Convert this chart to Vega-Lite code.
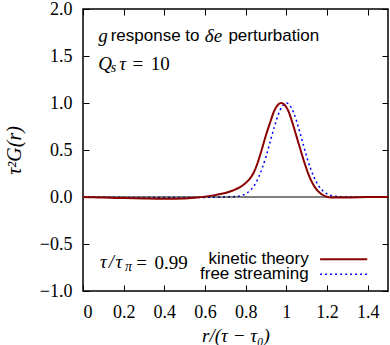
{
  "$schema": "https://vega.github.io/schema/vega-lite/v6.json",
  "width": 305,
  "height": 282,
  "autosize": {"type": "none"},
  "padding": {"left": 83, "top": 9, "right": 2, "bottom": 54},
  "background": "white",
  "config": {
    "view": {"stroke": "black", "strokeWidth": 1.5},
    "axis": {
      "labelFont": "Liberation Serif",
      "labelFontSize": 18,
      "labelColor": "black",
      "tickColor": "black",
      "tickSize": -6,
      "tickWidth": 1,
      "domain": false,
      "grid": false,
      "titleFont": "Liberation Serif",
      "titleFontStyle": "italic",
      "titleFontWeight": "normal",
      "titleFontSize": 19,
      "titleColor": "black"
    },
    "text": {"font": "Liberation Sans", "fontSize": 17, "color": "black", "align": "left", "baseline": "middle"}
  },
  "datasets": {
    "curves": [
      {"r": 0.0, "G": 0.0, "series": "kinetic theory"},
      {"r": 0.05, "G": -0.003, "series": "kinetic theory"},
      {"r": 0.1, "G": -0.006, "series": "kinetic theory"},
      {"r": 0.2, "G": -0.011, "series": "kinetic theory"},
      {"r": 0.3, "G": -0.016, "series": "kinetic theory"},
      {"r": 0.4, "G": -0.019, "series": "kinetic theory"},
      {"r": 0.5, "G": -0.015, "series": "kinetic theory"},
      {"r": 0.55, "G": -0.007, "series": "kinetic theory"},
      {"r": 0.6, "G": 0.004, "series": "kinetic theory"},
      {"r": 0.65, "G": 0.02, "series": "kinetic theory"},
      {"r": 0.7, "G": 0.042, "series": "kinetic theory"},
      {"r": 0.74, "G": 0.072, "series": "kinetic theory"},
      {"r": 0.77, "G": 0.102, "series": "kinetic theory"},
      {"r": 0.8, "G": 0.15, "series": "kinetic theory"},
      {"r": 0.82, "G": 0.192, "series": "kinetic theory"},
      {"r": 0.84, "G": 0.26, "series": "kinetic theory"},
      {"r": 0.86, "G": 0.37, "series": "kinetic theory"},
      {"r": 0.88, "G": 0.51, "series": "kinetic theory"},
      {"r": 0.9, "G": 0.66, "series": "kinetic theory"},
      {"r": 0.92, "G": 0.79, "series": "kinetic theory"},
      {"r": 0.94, "G": 0.915, "series": "kinetic theory"},
      {"r": 0.96, "G": 0.985, "series": "kinetic theory"},
      {"r": 0.975, "G": 1.0, "series": "kinetic theory"},
      {"r": 0.99, "G": 0.985, "series": "kinetic theory"},
      {"r": 1.01, "G": 0.915, "series": "kinetic theory"},
      {"r": 1.03, "G": 0.79, "series": "kinetic theory"},
      {"r": 1.05, "G": 0.645, "series": "kinetic theory"},
      {"r": 1.07, "G": 0.5, "series": "kinetic theory"},
      {"r": 1.09, "G": 0.36, "series": "kinetic theory"},
      {"r": 1.11, "G": 0.235, "series": "kinetic theory"},
      {"r": 1.13, "G": 0.14, "series": "kinetic theory"},
      {"r": 1.15, "G": 0.075, "series": "kinetic theory"},
      {"r": 1.17, "G": 0.035, "series": "kinetic theory"},
      {"r": 1.19, "G": 0.01, "series": "kinetic theory"},
      {"r": 1.22, "G": -0.004, "series": "kinetic theory"},
      {"r": 1.3, "G": -0.004, "series": "kinetic theory"},
      {"r": 1.4, "G": -0.001, "series": "kinetic theory"},
      {"r": 1.5, "G": 0.0, "series": "kinetic theory"},
      {"r": 0.0, "G": 0.0, "series": "free streaming"},
      {"r": 0.2, "G": -0.004, "series": "free streaming"},
      {"r": 0.4, "G": -0.006, "series": "free streaming"},
      {"r": 0.6, "G": -0.004, "series": "free streaming"},
      {"r": 0.7, "G": 0.0, "series": "free streaming"},
      {"r": 0.75, "G": 0.005, "series": "free streaming"},
      {"r": 0.8, "G": 0.034, "series": "free streaming"},
      {"r": 0.85, "G": 0.15, "series": "free streaming"},
      {"r": 0.88, "G": 0.297, "series": "free streaming"},
      {"r": 0.9, "G": 0.43, "series": "free streaming"},
      {"r": 0.92, "G": 0.583, "series": "free streaming"},
      {"r": 0.94, "G": 0.738, "series": "free streaming"},
      {"r": 0.96, "G": 0.874, "series": "free streaming"},
      {"r": 0.98, "G": 0.967, "series": "free streaming"},
      {"r": 1.0, "G": 1.0, "series": "free streaming"},
      {"r": 1.02, "G": 0.967, "series": "free streaming"},
      {"r": 1.04, "G": 0.874, "series": "free streaming"},
      {"r": 1.06, "G": 0.738, "series": "free streaming"},
      {"r": 1.08, "G": 0.583, "series": "free streaming"},
      {"r": 1.1, "G": 0.43, "series": "free streaming"},
      {"r": 1.12, "G": 0.297, "series": "free streaming"},
      {"r": 1.15, "G": 0.15, "series": "free streaming"},
      {"r": 1.2, "G": 0.034, "series": "free streaming"},
      {"r": 1.25, "G": 0.005, "series": "free streaming"},
      {"r": 1.3, "G": 0.0, "series": "free streaming"},
      {"r": 1.5, "G": 0.0, "series": "free streaming"}
    ],
    "one": [{"item": 1}]
  },
  "layer": [
    {
      "data": {"name": "curves"},
      "mark": {"type": "point", "opacity": 0},
      "encoding": {
        "x": {"field": "r", "type": "quantitative", "scale": {"domain": [0, 1.5], "nice": false},
              "axis": {"orient": "top", "labels": false, "title": null, "values": [0, 0.2, 0.4, 0.6, 0.8, 1.0, 1.2, 1.4]}},
        "y": {"field": "G", "type": "quantitative", "scale": {"domain": [-1, 2], "nice": false},
              "axis": {"orient": "right", "labels": false, "title": null, "values": [-1, -0.5, 0, 0.5, 1, 1.5, 2]}}
      }
    },
    {
      "data": {"name": "curves"},
      "transform": [{"filter": "datum.series == 'free streaming'"}],
      "mark": {"type": "line", "color": "#0000ff", "strokeWidth": 1.5, "strokeDash": [2, 3], "interpolate": "monotone"},
      "encoding": {
        "x": {"field": "r", "type": "quantitative",
              "axis": {"orient": "bottom", "title": "r/(τ − τ₀)", "format": "~g", "labelPadding": 18, "titlePadding": 5,
                       "values": [0, 0.2, 0.4, 0.6, 0.8, 1.0, 1.2, 1.4]}},
        "y": {"field": "G", "type": "quantitative",
              "axis": {"orient": "left", "title": "τ²G(r)", "format": ".1f", "labelPadding": 17, "titlePadding": 15, "titleFontSize": 20,
                       "values": [-1, -0.5, 0, 0.5, 1, 1.5, 2]}}
      }
    },
    {
      "data": {"name": "one"},
      "mark": {"type": "rule", "color": "black", "strokeWidth": 1},
      "encoding": {"y": {"datum": 0, "axis": null}}
    },
    {
      "data": {"name": "curves"},
      "transform": [{"filter": "datum.series == 'kinetic theory'"}],
      "mark": {"type": "line", "color": "#8b0000", "strokeWidth": 2, "interpolate": "monotone"},
      "encoding": {
        "x": {"field": "r", "type": "quantitative", "axis": null},
        "y": {"field": "G", "type": "quantitative", "axis": null}
      }
    },
    {
      "data": {"name": "one"},
      "mark": {"type": "rule", "color": "#8b0000", "strokeWidth": 2},
      "encoding": {"x": {"datum": 1.166, "axis": null}, "x2": {"datum": 1.398}, "y": {"datum": -0.663, "axis": null}}
    },
    {
      "data": {"name": "one"},
      "mark": {"type": "rule", "color": "#0000ff", "strokeWidth": 1.5, "strokeDash": [2, 3]},
      "encoding": {"x": {"datum": 1.166, "axis": null}, "x2": {"datum": 1.398}, "y": {"datum": -0.822, "axis": null}}
    },
    {
      "data": {"name": "one"},
      "mark": {"type": "text", "align": "right", "text": "kinetic theory"},
      "encoding": {"x": {"datum": 1.11, "axis": null}, "y": {"datum": -0.663, "axis": null}}
    },
    {
      "data": {"name": "one"},
      "mark": {"type": "text", "align": "right", "text": "free streaming"},
      "encoding": {"x": {"datum": 1.11, "axis": null}, "y": {"datum": -0.822, "axis": null}}
    },
    {
      "data": {"name": "one"},
      "mark": {"type": "text", "font": "Liberation Serif", "fontStyle": "italic", "fontSize": 19, "text": "g"},
      "encoding": {"x": {"datum": 0.075, "axis": null}, "y": {"datum": 1.713, "axis": null}}
    },
    {
      "data": {"name": "one"},
      "mark": {"type": "text", "text": "response to"},
      "encoding": {"x": {"datum": 0.136, "axis": null}, "y": {"datum": 1.713, "axis": null}}
    },
    {
      "data": {"name": "one"},
      "mark": {"type": "text", "font": "Liberation Serif", "fontStyle": "italic", "fontSize": 19, "text": "δe"},
      "encoding": {"x": {"datum": 0.599, "axis": null}, "y": {"datum": 1.713, "axis": null}}
    },
    {
      "data": {"name": "one"},
      "mark": {"type": "text", "text": "perturbation"},
      "encoding": {"x": {"datum": 0.715, "axis": null}, "y": {"datum": 1.713, "axis": null}}
    },
    {
      "data": {"name": "one"},
      "mark": {"type": "text", "font": "Liberation Serif", "fontStyle": "italic", "fontSize": 19, "text": "Q"},
      "encoding": {"x": {"datum": 0.075, "axis": null}, "y": {"datum": 1.41, "axis": null}}
    },
    {
      "data": {"name": "one"},
      "mark": {"type": "text", "font": "Liberation Serif", "fontStyle": "italic", "fontSize": 14, "text": "s"},
      "encoding": {"x": {"datum": 0.136, "axis": null}, "y": {"datum": 1.37, "axis": null}}
    },
    {
      "data": {"name": "one"},
      "mark": {"type": "text", "font": "Liberation Serif", "fontStyle": "italic", "fontSize": 19, "text": "τ"},
      "encoding": {"x": {"datum": 0.178, "axis": null}, "y": {"datum": 1.41, "axis": null}}
    },
    {
      "data": {"name": "one"},
      "mark": {"type": "text", "font": "Liberation Serif", "fontSize": 19, "text": "="},
      "encoding": {"x": {"datum": 0.243, "axis": null}, "y": {"datum": 1.41, "axis": null}}
    },
    {
      "data": {"name": "one"},
      "mark": {"type": "text", "font": "Liberation Serif", "fontSize": 19, "text": "10"},
      "encoding": {"x": {"datum": 0.333, "axis": null}, "y": {"datum": 1.41, "axis": null}}
    },
    {
      "data": {"name": "one"},
      "mark": {"type": "text", "font": "Liberation Serif", "fontStyle": "italic", "fontSize": 19, "text": "τ"},
      "encoding": {"x": {"datum": 0.084, "axis": null}, "y": {"datum": -0.688, "axis": null}}
    },
    {
      "data": {"name": "one"},
      "mark": {"type": "text", "font": "Liberation Serif", "fontStyle": "italic", "fontSize": 19, "text": "/"},
      "encoding": {"x": {"datum": 0.127, "axis": null}, "y": {"datum": -0.688, "axis": null}}
    },
    {
      "data": {"name": "one"},
      "mark": {"type": "text", "font": "Liberation Serif", "fontStyle": "italic", "fontSize": 19, "text": "τ"},
      "encoding": {"x": {"datum": 0.16, "axis": null}, "y": {"datum": -0.688, "axis": null}}
    },
    {
      "data": {"name": "one"},
      "mark": {"type": "text", "font": "Liberation Serif", "fontStyle": "italic", "fontSize": 14, "text": "π"},
      "encoding": {"x": {"datum": 0.206, "axis": null}, "y": {"datum": -0.74, "axis": null}}
    },
    {
      "data": {"name": "one"},
      "mark": {"type": "text", "font": "Liberation Serif", "fontSize": 19, "text": "="},
      "encoding": {"x": {"datum": 0.262, "axis": null}, "y": {"datum": -0.7, "axis": null}}
    },
    {
      "data": {"name": "one"},
      "mark": {"type": "text", "font": "Liberation Serif", "fontSize": 19, "text": "0.99"},
      "encoding": {"x": {"datum": 0.352, "axis": null}, "y": {"datum": -0.7, "axis": null}}
    }
  ],
  "resolve": {"axis": {"x": "independent", "y": "independent"}}
}
